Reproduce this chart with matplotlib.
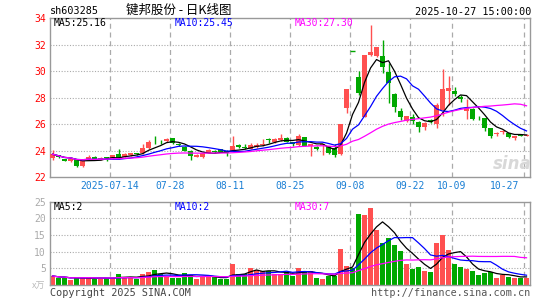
import matplotlib
matplotlib.use("Agg")
import matplotlib.pyplot as plt
import matplotlib.transforms as mtransforms
import numpy as np
import pandas as pd

# daily bars, 2025-06-30 .. 2025-10-27
opens = [23.43, 23.68, 23.36, 23.22, 23.30, 22.85, 23.30, 23.55, 23.36, 23.51,
         23.43, 23.74, 23.53, 23.70, 23.80, 23.81, 24.19, 24.68, 24.70, 24.74,
         24.94, 24.55, 24.31, 24.00, 23.55, 23.55, 23.85, 23.95, 24.10, 24.00,
         24.00, 24.46, 24.30, 24.16, 24.26, 24.46, 24.90, 24.66, 24.80, 25.00,
         24.65, 24.46, 25.02, 24.36, 24.30, 24.45, 24.36, 24.19, 23.76, 27.25,
         31.53, 29.60, 26.57, 31.20, 31.18, 31.15, 29.97, 28.29, 27.03, 26.25,
         26.57, 26.20, 25.77, 26.35, 26.02, 27.10, 28.55, 28.50, 28.08, 27.00,
         27.13, 26.48, 26.45, 25.70, 25.30, 25.45, 25.32, 24.94, 25.22, 25.15]
highs = [24.06, 23.72, 23.40, 23.40, 23.32, 23.25, 23.70, 23.60, 23.50, 23.55,
         23.70, 24.10, 23.80, 23.85, 23.82, 24.50, 24.80, 25.10, 24.85, 25.00,
         24.96, 24.60, 24.35, 24.05, 23.75, 23.85, 24.10, 24.05, 24.12, 24.05,
         25.12, 24.50, 24.50, 24.60, 24.60, 24.90, 25.00, 24.95, 25.30, 25.05,
         24.70, 25.30, 25.05, 24.55, 24.35, 24.55, 24.40, 24.50, 26.02, 28.66,
         31.53, 30.05, 31.23, 33.50, 31.86, 32.40, 30.60, 28.35, 27.20, 26.65,
         26.80, 26.25, 26.15, 26.40, 27.60, 30.15, 29.65, 28.80, 28.20, 27.90,
         27.20, 26.60, 26.50, 25.75, 25.45, 25.60, 25.35, 25.12, 25.25, 25.30]
lows = [23.30, 23.45, 23.20, 23.15, 22.80, 22.80, 23.28, 23.28, 23.30, 23.20,
        23.40, 23.40, 23.50, 23.62, 23.72, 23.78, 24.15, 24.50, 24.55, 24.70,
        24.55, 24.40, 23.95, 23.30, 23.50, 23.45, 23.80, 23.85, 23.88, 23.60,
        23.95, 24.20, 24.15, 24.10, 24.20, 24.40, 24.60, 24.60, 24.75, 24.65,
        24.40, 24.40, 24.35, 23.60, 24.05, 23.70, 23.75, 23.55, 23.70, 26.88,
        31.53, 28.20, 26.57, 31.15, 31.10, 29.85, 27.60, 26.95, 26.30, 26.20,
        26.00, 25.40, 25.60, 26.10, 25.72, 26.60, 27.45, 28.10, 27.70, 26.38,
        26.30, 26.30, 25.50, 24.95, 25.15, 25.30, 25.00, 24.80, 25.10, 25.10]
closes = [23.74, 23.51, 23.25, 23.36, 22.88, 23.23, 23.55, 23.30, 23.48, 23.43,
          23.68, 23.43, 23.74, 23.80, 23.75, 24.19, 24.69, 24.64, 24.68, 24.87,
          24.57, 24.45, 24.01, 23.60, 23.70, 23.80, 24.05, 23.90, 23.90, 23.85,
          24.36, 24.26, 24.20, 24.41, 24.46, 24.55, 24.80, 24.90, 25.00, 24.70,
          24.50, 25.12, 24.40, 24.50, 24.10, 24.50, 23.81, 23.68, 26.02, 28.66,
          31.53, 28.38, 31.22, 31.45, 31.86, 30.35, 29.09, 27.28, 26.53, 26.62,
          26.25, 25.82, 26.12, 26.15, 27.45, 28.70, 28.75, 28.26, 27.91, 27.20,
          26.38, 26.45, 25.70, 25.12, 25.37, 25.50, 25.06, 25.12, 25.10, 25.20]
volumes = [2.7, 2.2, 2.2, 1.5, 2.3, 2.0, 2.4, 1.8, 1.8, 2.1,
           2.2, 3.3, 2.2, 2.2, 1.8, 3.3, 4.0, 4.5, 3.3, 2.8,
           2.2, 2.2, 3.6, 3.0, 1.8, 2.5, 2.8, 2.3, 1.7, 1.8,
           6.3, 3.3, 3.3, 5.1, 4.5, 4.1, 4.2, 3.3, 3.3, 4.0,
           2.7, 5.0, 4.2, 4.2, 2.2, 1.8, 2.7, 2.7, 10.8, 5.7,
           5.0, 21.3, 21.0, 23.2, 16.5, 12.5, 14.0, 12.0, 10.2, 6.3,
           4.8, 5.5, 4.2, 4.0, 12.7, 15.0, 10.5, 6.3, 5.5, 4.8,
           4.3, 3.0, 3.7, 4.0, 2.2, 3.0, 2.5, 2.2, 2.2, 2.2]

tick_idx = [10, 20, 30, 40, 50, 60, 67, 79]
tick_labels = ["2025-07-14", "07-28", "08-11", "08-25", "09-08", "09-22", "10-09", "10-27"]
price_ticks = [22, 24, 26, 28, 30, 32, 34]
vol_ticks = [5, 10, 15, 20, 25]

code = "sh603285"
title = "键邦股份 - 日K线图"
stamp = "2025-10-27 15:00:00"
price_ma_text = ["MA5:25.16", "MA10:25.45", "MA30:27.30"]
vol_ma_text = ["MA5:2", "MA10:2", "MA30:7"]

RED = "#ff5050"
GREEN = "#00a800"
MA_COLORS = ["black", "#0000ff", "#ff00ff"]
FRAME = "#999999"
MONO = "DejaVu Sans Mono"

o = np.array(opens)
h = np.array(highs)
l = np.array(lows)
c = np.array(closes)
v = np.array(volumes)
x = np.arange(len(c))
up = c > o
colors = np.where(up, RED, GREEN)

W, H = 545, 300
fig = plt.figure(figsize=(W / 100, H / 100), dpi=100)
ax1 = fig.add_axes([50 / W, 1 - 177.3 / H, 480 / W, 159 / H])
ax2 = fig.add_axes([50 / W, 1 - 285 / H, 480 / W, 83.5 / H])

xlim = (-0.42, len(c) - 0.42)
line_x = np.array(tick_idx) - 0.42  # dashed lines sit on the left edge of the bar

for ax in (ax1, ax2):
    ax.set_xlim(*xlim)
    for s in ax.spines.values():
        s.set_color(FRAME)
        s.set_linewidth(1)
    ax.set_xticks([])
    ax.tick_params(axis="y", length=0, pad=3)
    for lx in line_x:
        ax.axvline(lx, color="#aaaaaa", lw=0.9, ls=(0, (4, 3)), zorder=0)

# price panel
ax1.set_ylim(22, 34)
ax1.set_yticks(price_ticks)
ax1.set_yticklabels([str(t) for t in price_ticks], color="red", family=MONO, fontsize=7)
for t in price_ticks[1:-1]:
    ax1.axhline(t, color="#aaaaaa", lw=0.8, ls=(0, (1, 1.5)), zorder=0)

ax1.vlines(x, l, h, colors=colors, lw=1, zorder=2)
body = np.abs(c - o)
ax1.bar(x, body, bottom=np.minimum(o, c), width=0.8, color=colors, zorder=3)
flat = body == 0
ax1.hlines(c[flat], x[flat] - 0.4, x[flat] + 0.4, colors=GREEN, lw=1, zorder=3)

for n, col in zip([5, 10, 30], MA_COLORS):
    ax1.plot(x, pd.Series(c).rolling(n, min_periods=1).mean(), color=col, lw=0.9, zorder=4)

# volume panel
ax2.set_ylim(0, 25)
ax2.set_yticks(vol_ticks)
ax2.set_yticklabels([str(t) for t in vol_ticks], color="#aaaaaa", family=MONO, fontsize=7)
for t in vol_ticks[:-1]:
    ax2.axhline(t, color="#aaaaaa", lw=0.8, ls=(0, (1, 1.5)), zorder=0)
ax2.bar(x, v, width=0.8, color=colors, zorder=2)
for n, col in zip([5, 10, 30], MA_COLORS):
    ax2.plot(x, pd.Series(v).rolling(n, min_periods=1).mean(), color=col, lw=0.9, zorder=3)

# date labels under the price panel
trans = mtransforms.blended_transform_factory(ax1.transData, ax1.transAxes)
for i, (lx, lab) in enumerate(zip(line_x, tick_labels)):
    if i == len(tick_labels) - 1:
        ax1.text(lx - 0.8, -0.056, lab, transform=trans, ha="right", va="center",
                 color="#1a7fd4", family=MONO, fontsize=7)
    else:
        ax1.text(lx, -0.056, lab, transform=trans, ha="center", va="center",
                 color="#1a7fd4", family=MONO, fontsize=7)

# MA legends
for ax, texts, ypix, top in ((ax1, price_ma_text, 23.5, 18.3), (ax2, vol_ma_text, 206.5, 201.5)):
    for t, xp, col in zip(texts, [54, 175, 295], MA_COLORS):
        fig.text(xp / W, 1 - ypix / H, t, color=col, family=MONO, fontsize=7,
                 ha="left", va="center")

# header and footer
fig.text(50 / W, 1 - 11 / H, code, family=MONO, fontsize=7.3, va="center", ha="left")
fig.text(179 / W, 1 - 10.5 / H, title, family=["Noto Sans CJK SC", "DejaVu Sans"],
         fontsize=9, va="center", ha="center")
fig.text(531 / W, 1 - 12 / H, stamp, family=MONO, fontsize=7.3, va="center", ha="right")
fig.text(50 / W, 1 - 293.5 / H, "Copyright 2025 SINA.COM", family=MONO, fontsize=7.3,
         color="#444444", va="center", ha="left")
fig.text(530 / W, 1 - 293.5 / H, "http://finance.sina.com.cn", family=MONO, fontsize=7.3,
         color="#555555", va="center", ha="right")
fig.text(45 / W, 1 - 286 / H, "x万", family=["Noto Sans CJK SC", "DejaVu Sans"],
         fontsize=6.5, color="#bbbbbb", va="center", ha="right")
fig.text(512 / W, 1 - 164 / H, "sina", family="DejaVu Sans", fontsize=12, style="italic",
         fontweight="bold", color="#d8d8d8", va="center", ha="center", zorder=0)

fig.savefig("out.png", dpi=100)
